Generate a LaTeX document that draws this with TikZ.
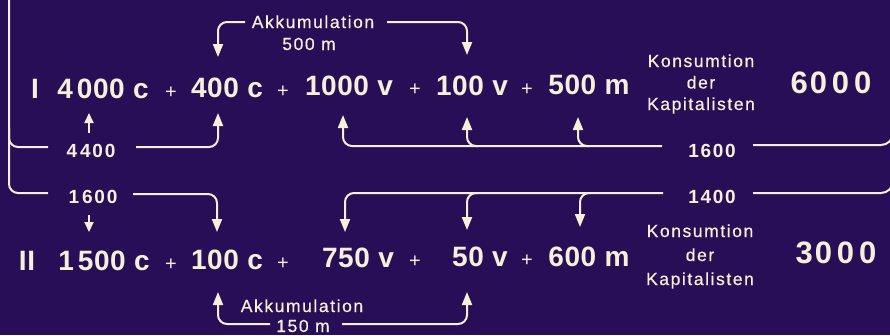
\documentclass[tikz,border=0pt]{standalone}
\usepackage{fontspec}
\setmainfont{Liberation Sans}
\usetikzlibrary{arrows.meta}
\definecolor{bgviolet}{RGB}{40,14,86}
\definecolor{chalk}{RGB}{246,240,218}
\tikzset{
  term/.style={text=chalk, inner sep=0pt, anchor=base,
    font=\fontsize{28}{30}\selectfont\bfseries\addfontfeature{LetterSpace=2}},
  total/.style={term,
    font=\fontsize{31}{32}\selectfont\bfseries\addfontfeature{LetterSpace=16}},
  plus/.style={text=chalk, inner sep=0pt, anchor=base,
    font=\fontsize{20}{20}\selectfont},
  note/.style={text=chalk, inner sep=0pt, anchor=base, align=center,
    font=\fontsize{17.5}{21.5}\selectfont\addfontfeature{LetterSpace=9,FakeBold=0.6}},
  notewide/.style={note,
    font=\fontsize{17.5}{24}\selectfont\addfontfeature{LetterSpace=9,FakeBold=0.6}},
  sum/.style={note,
    font=\fontsize{19}{22}\selectfont\bfseries\addfontfeature{LetterSpace=9}},
  flow/.style={draw=chalk, line width=2pt, rounded corners=9pt},
  flowarr/.style={flow, -{Triangle[width=10pt,length=13pt]}},
  smallarr/.style={flow, -{Triangle[width=9pt,length=10pt]}},
}
\begin{document}
\begin{tikzpicture}[x=1pt,y=-1pt]
  \path[use as bounding box] (0,0) rectangle (890,335);
  \fill[bgviolet] (0,0) rectangle (890,335);
  \clip (0,0) rectangle (890,335);

  % department I
  \node[term] (rI)    at (35,98)  {I};
  \node[term] (c4000) at (103,98) {4\hspace{4pt}000 c};
  \node[plus] (pI1)   at (171,98) {+};
  \node[term] (c400)  at (227,97) {400 c};
  \node[plus] (pI2)   at (283,97) {+};
  \node[term] (v1000) at (349,95) {1000 v};
  \node[plus] (pI3)   at (415,95) {+};
  \node[term] (v100)  at (472,95) {100 v};
  \node[plus] (pI4)   at (527,95) {+};
  \node[term] (m500)  at (589,94) {500 m};
  \node[note] (konsI) at (701,110) {Konsumtion\\der\\Kapitalisten};
  \node[total] (totI) at (831,93) {6\hspace{2pt}000};

  % department II
  \node[term] (rII)    at (27,270)  {II};
  \node[term] (c1500)  at (104,270) {1\hspace{4pt}500 c};
  \node[plus] (pII1)   at (171,270) {+};
  \node[term] (c100)   at (227,269) {100 c};
  \node[plus] (pII2)   at (283,269) {+};
  \node[term] (v750)   at (358,267) {750 v};
  \node[plus] (pII3)   at (415,267) {+};
  \node[term] (v50)    at (480,266) {50 v};
  \node[plus] (pII4)   at (527,266) {+};
  \node[term] (m600)   at (589,266) {600 m};
  \node[notewide] (konsII) at (700,285) {Konsumtion\\der\\Kapitalisten};
  \node[total] (totII) at (836,263) {3\hspace{2pt}000};

  % flow labels
  \node[note] (akkI)    at (313,28)  {Akkumulation};
  \node[note] (mI)      at (309,50)  {500 m};
  \node[sum]  (s4400)   at (91,157)  {4\hspace{3pt}400};
  \node[sum]  (s1600I)  at (712,157) {1600};
  \node[sum]  (s1600II) at (93,203)  {1\hspace{3pt}600};
  \node[sum]  (s1400)   at (712,203) {1400};
  \node[note] (akkII)   at (302,312) {Akkumulation};
  \node[note] (mII)     at (303,332) {150 m};

  % connector end points
  \coordinate (railTop)  at (9,-5);
  \coordinate (railMid)  at (9,128);
  \coordinate (in4400)   at (48,147);
  \coordinate (out4400)  at (136,147);
  \coordinate (up4400)   at (89,133);
  \coordinate (tip4000)  at (89,113);
  \coordinate (tip400)   at (218,113);
  \coordinate (akkIl)    at (245,22);
  \coordinate (akkIr)    at (387,22);
  \coordinate (tip400t)  at (218,57);
  \coordinate (tip100t)  at (467,55);
  \coordinate (in1600I)  at (662,146);
  \coordinate (out1600I) at (753,145);
  \coordinate (br100)    at (478,146);
  \coordinate (br500)    at (589,146);
  \coordinate (tip1000)  at (343,115);
  \coordinate (tip100)   at (467,117);
  \coordinate (tip500)   at (578,117);
  \coordinate (edgeI)    at (893,90);
  \coordinate (in1600II) at (48,193);
  \coordinate (out1600II) at (133,194);
  \coordinate (dn1600)   at (89,215);
  \coordinate (tip1500)  at (89,232);
  \coordinate (tip100c)  at (217,232);
  \coordinate (in1400)   at (663,193);
  \coordinate (out1400)  at (753,193);
  \coordinate (br50)     at (478,193);
  \coordinate (br600)    at (591,193);
  \coordinate (tip750)   at (345,232);
  \coordinate (tip50)    at (467,230);
  \coordinate (tip600)   at (580,227);
  \coordinate (edgeII)   at (893,150);
  \coordinate (akkIIl)   at (270,324);
  \coordinate (akkIIr)   at (342,324);
  \coordinate (tip100b)  at (218,292);
  \coordinate (tip50b)   at (467,292);

  % rail on the left edge
  \draw[flow] (railTop) |- (in1600II);
  \draw[flow] (railMid) |- (in4400);

  % department I flows
  \draw[flowarr] (out4400) -| (tip400);
  \draw[smallarr] (up4400) -- (tip4000);
  \draw[flowarr] (akkIl) -| (tip400t);
  \draw[flowarr] (akkIr) -| (tip100t);
  \draw[flowarr] (in1600I) -| (tip1000);
  \draw[flowarr] (br100) -| (tip100);
  \draw[flowarr] (br500) -| (tip500);
  \draw[flow, rounded corners=12pt] (out1600I) -| (edgeI);

  % department II flows
  \draw[smallarr] (dn1600) -- (tip1500);
  \draw[flowarr] (out1600II) -| (tip100c);
  \draw[flowarr] (in1400) -| (tip750);
  \draw[flowarr] (br50) -| (tip50);
  \draw[flowarr] (br600) -| (tip600);
  \draw[flow, rounded corners=12pt] (out1400) -| (edgeII);
  \draw[flowarr] (akkIIl) -| (tip100b);
  \draw[flowarr] (akkIIr) -| (tip50b);
\end{tikzpicture}
\end{document}
